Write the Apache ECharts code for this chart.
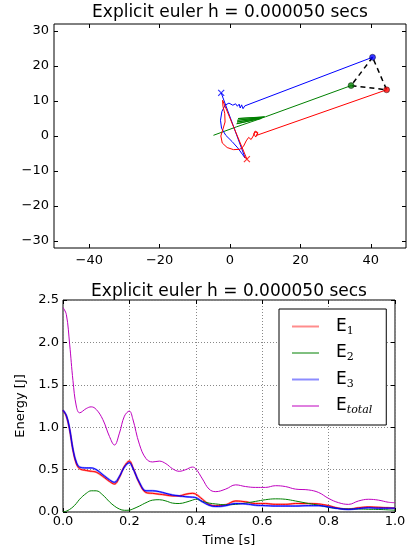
<!DOCTYPE html>
<html><head><meta charset="utf-8">
<script src="https://cdn.jsdelivr.net/npm/echarts@6/dist/echarts.min.js"></script>
<style>html,body{margin:0;padding:0;background:#fff}#c{width:414px;height:553px}</style>
</head><body><div id="c"></div>
<script>
// ---- trajectory data (x, y) ----
var blueTraj = [[40.5,22.5],[4.2,8.6],[3.7,7.8],[3.3,8.9],[2.9,8.0],[2.6,9.1],[2.1,8.5],[1.6,9.2],[0.8,8.8],[-0.3,9.4],[-1.4,8.8],[-2.3,7],[-2.7,4.5],[-2.4,2.2],[-1.2,0.2],[0.6,-1.6],[2.2,-3.4],[3.5,-5.2],[4.3,-6.3],[-2.5,12.3]];
var redTraj = [[44.5,13.2],[7.6,0.2],[7.9,1.0],[7.2,1.4],[6.8,0.6],[7.3,-0.3],[7.9,0.8],[7.0,1.2],[6.6,0.0],[6.0,-1.0],[5.3,-0.4],[4.6,-1.4],[3.8,-3.0],[2.8,-3.8],[1.0,-3.9],[-0.8,-3.3],[-2.2,-2.0],[-2.6,0.0],[-2.0,2.0],[-1.4,4.0],[-1.5,6.5],[-2.0,8.5],[-2.1,10.2],[4.8,-6.6]];
var greenTraj = [[34.4,14.4],[10.1,5.5],[2.3,5.0],[9.8,5.4],[2.1,4.5],[9.5,5.3],[2.0,4.0],[9.2,5.2],[1.9,3.5],[8.8,5.0],[1.8,2.6],[-4.7,0.2]];
var startPts = [[40.5,22.5,'#0000ff'],[34.4,14.4,'#008000'],[44.5,13.2,'#ff0000']];
var endPts = [[-2.5,12.3,'#0000ff'],[4.8,-6.6,'#ff0000']];
var triangle = [[40.5,22.5],[34.4,14.4],[44.5,13.2],[40.5,22.5]];
var topXTicks = [-40,-20,0,20,40];
var topYTicks = [-30,-20,-10,0,10,20,30];

// ---- energy data ----
var T = [0,0.01,0.02,0.03,0.04,0.05,0.07,0.085,0.1,0.12,0.14,0.155,0.17,0.185,0.2,0.21,0.23,0.25,0.27,0.29,0.31,0.33,0.35,0.37,0.39,0.4,0.42,0.44,0.46,0.49,0.52,0.55,0.58,0.61,0.64,0.67,0.7,0.74,0.77,0.8,0.83,0.86,0.89,0.92,0.95,0.98,1.0];
var E1 = [1.20,1.13,0.97,0.73,0.57,0.51,0.49,0.48,0.47,0.42,0.36,0.33,0.41,0.54,0.60,0.53,0.34,0.23,0.22,0.21,0.20,0.19,0.19,0.21,0.22,0.21,0.15,0.09,0.075,0.085,0.13,0.12,0.10,0.10,0.09,0.09,0.10,0.10,0.095,0.075,0.045,0.035,0.05,0.06,0.055,0.05,0.045];
var E2 = [0.0,0.01,0.03,0.06,0.10,0.15,0.22,0.25,0.25,0.20,0.12,0.07,0.035,0.02,0.022,0.035,0.07,0.11,0.14,0.145,0.13,0.105,0.10,0.115,0.14,0.15,0.125,0.105,0.095,0.085,0.09,0.105,0.125,0.145,0.155,0.15,0.13,0.10,0.08,0.055,0.04,0.035,0.035,0.032,0.03,0.025,0.02];
var E3 = [1.20,1.14,0.98,0.74,0.59,0.53,0.52,0.52,0.50,0.44,0.38,0.35,0.42,0.53,0.58,0.52,0.35,0.25,0.25,0.24,0.22,0.20,0.19,0.18,0.175,0.17,0.12,0.08,0.065,0.075,0.10,0.095,0.08,0.075,0.07,0.07,0.07,0.075,0.075,0.06,0.04,0.03,0.04,0.05,0.045,0.045,0.045];
var Etot = [2.41,2.33,1.98,1.55,1.25,1.17,1.22,1.24,1.21,1.09,0.89,0.79,0.93,1.13,1.19,1.10,0.80,0.63,0.59,0.60,0.57,0.51,0.48,0.50,0.53,0.51,0.39,0.27,0.24,0.27,0.32,0.30,0.29,0.29,0.31,0.30,0.27,0.26,0.23,0.16,0.11,0.09,0.13,0.15,0.14,0.115,0.11];
var legendNames = ['E1','E2','E3','Etotal'];
var titleText = 'Explicit euler h = 0.000050 secs';

function zipT(v){ return T.map(function(t,i){return [t,v[i]];}); }
var FONT = 'DejaVu Sans';
function minus(v){ return String(v).replace('-', '\u2212'); }

var chart = echarts.init(document.getElementById('c'), null, {renderer:'canvas'});
var tickStyle = {show:true, inside:true, length:4, lineStyle:{color:'#000', width:1}};
var noLine = {show:false, onZero:false};
var lbl = {color:'#000', fontFamily:FONT, fontSize:13};
var xMark = 'path://M0,0L10,10M10,0L0,10';
var legendWidths = {E1:2, E2:1, E3:2, Etotal:1};

var option = {
  animation:false,
  backgroundColor:'#fff',
  graphic:[
    {type:'text', x:230, y:13, style:{text:titleText, fontFamily:FONT, fontSize:17, fill:'#000', align:'center', verticalAlign:'middle'}},
    {type:'text', x:229, y:292, style:{text:titleText, fontFamily:FONT, fontSize:17, fill:'#000', align:'center', verticalAlign:'middle'}}
  ],
  grid:[
    {left:54, right:8, top:24, height:224, show:true, borderColor:'#000', borderWidth:1, backgroundColor:'transparent'},
    {left:63, right:19, top:300, bottom:41, show:true, borderColor:'#000', borderWidth:1, backgroundColor:'transparent'}
  ],
  xAxis:[
    {gridIndex:0, type:'value', min:-50, max:50, axisLine:noLine, splitLine:{show:false},
     axisTick:Object.assign({customValues:topXTicks}, tickStyle),
     axisLabel:Object.assign({customValues:topXTicks, margin:6, formatter:minus}, lbl)},
    {gridIndex:0, type:'value', position:'top', min:-50, max:50, axisLine:noLine, splitLine:{show:false},
     axisTick:Object.assign({customValues:topXTicks}, tickStyle), axisLabel:{show:false}},
    {gridIndex:1, type:'value', min:0, max:1, interval:0.2, axisLine:noLine,
     splitLine:{show:true, lineStyle:{color:'#888', type:[1,2], width:1}},
     axisTick:tickStyle,
     axisLabel:Object.assign({margin:3, formatter:function(v){return v.toFixed(1);}}, lbl),
     name:'Time [s]', nameLocation:'middle', nameGap:22, nameTextStyle:{color:'#000', fontFamily:FONT, fontSize:13}},
    {gridIndex:1, type:'value', position:'top', min:0, max:1, interval:0.2, axisLine:noLine, splitLine:{show:false},
     axisTick:tickStyle, axisLabel:{show:false}}
  ],
  yAxis:[
    {gridIndex:0, type:'value', min:-32, max:32, axisLine:noLine, splitLine:{show:false},
     axisTick:Object.assign({customValues:topYTicks}, tickStyle),
     axisLabel:Object.assign({customValues:topYTicks, margin:5, formatter:minus}, lbl)},
    {gridIndex:0, type:'value', position:'right', min:-32, max:32, axisLine:noLine, splitLine:{show:false},
     axisTick:Object.assign({customValues:topYTicks}, tickStyle), axisLabel:{show:false}},
    {gridIndex:1, type:'value', min:0, max:2.5, interval:0.5, axisLine:noLine,
     splitLine:{show:true, lineStyle:{color:'#888', type:[1,2], width:1}},
     axisTick:tickStyle,
     axisLabel:Object.assign({margin:4, formatter:function(v){return v.toFixed(1);}}, lbl),
     name:'Energy [J]', nameLocation:'middle', nameGap:31, nameRotate:90, nameTextStyle:{color:'#000', fontFamily:FONT, fontSize:13}},
    {gridIndex:1, type:'value', position:'right', min:0, max:2.5, interval:0.5, axisLine:noLine, splitLine:{show:false},
     axisTick:tickStyle, axisLabel:{show:false}}
  ],
  legend:{
    data:legendNames.map(function(n){return {name:n, lineStyle:{width:legendWidths[n]}};}),
    orient:'vertical', left:279, top:309,
    padding:[9,14,9,12], itemWidth:27, itemHeight:10, itemGap:8,
    itemStyle:{color:'rgba(0,0,0,0)', borderColor:'rgba(0,0,0,0)', borderWidth:0},
    backgroundColor:'#fff', borderColor:'#000', borderWidth:1, borderRadius:0,
    textStyle:{padding:[0,0,0,12], fontFamily:FONT, fontSize:16, color:'#000',
      rich:{
        b:{fontFamily:FONT, fontSize:17, color:'#000'},
        s:{fontFamily:'DejaVu Serif', fontSize:11, color:'#000', padding:[9,0,0,0]},
        i:{fontFamily:'DejaVu Serif', fontStyle:'italic', fontSize:11, color:'#000', padding:[9,0,0,0]}
      }},
    formatter:function(n){
      if(n==='Etotal') return '{b|E}{i|total}';
      return '{b|E}{s|'+n.slice(1)+'}';
    }
  },
  series:[
    {type:'line', xAxisIndex:0, yAxisIndex:0, data:blueTraj, symbol:'none', lineStyle:{color:'#0000ff', width:1}, z:3},
    {type:'line', xAxisIndex:0, yAxisIndex:0, data:greenTraj, symbol:'none', lineStyle:{color:'#008000', width:1}, z:2},
    {type:'line', xAxisIndex:0, yAxisIndex:0, data:redTraj, symbol:'none', lineStyle:{color:'#ff0000', width:1}, z:3},
    {type:'line', xAxisIndex:0, yAxisIndex:0, data:triangle, symbol:'none', lineStyle:{color:'#000', width:1.5, type:[5,4]}, z:4},
    {type:'scatter', xAxisIndex:0, yAxisIndex:0, data:startPts.map(function(p){return {value:[p[0],p[1]], itemStyle:{color:p[2]}};}),
     symbol:'circle', symbolSize:6, itemStyle:{borderColor:'#000', borderWidth:0.5}, z:5},
    {type:'scatter', xAxisIndex:0, yAxisIndex:0, data:endPts.map(function(p){return {value:[p[0],p[1]], itemStyle:{borderColor:p[2]}};}),
     symbol:xMark, symbolSize:6, itemStyle:{color:'none', borderWidth:1.2}, z:5},

    {name:'E1', type:'line', xAxisIndex:2, yAxisIndex:2, data:zipT(E1), symbol:'none', smooth:0.4, lineStyle:{color:'#ff0000', width:2, opacity:0.45}, itemStyle:{color:'#ff0000'}, z:3},
    {type:'line', xAxisIndex:2, yAxisIndex:2, data:zipT(E1), symbol:'none', smooth:0.4, lineStyle:{color:'#ff0000', width:1}, z:3},
    {name:'E2', type:'line', xAxisIndex:2, yAxisIndex:2, data:zipT(E2), symbol:'none', smooth:0.4, lineStyle:{color:'#008000', width:1}, itemStyle:{color:'#008000'}, z:3},
    {name:'E3', type:'line', xAxisIndex:2, yAxisIndex:2, data:zipT(E3), symbol:'none', smooth:0.4, lineStyle:{color:'#0000ff', width:2, opacity:0.45}, itemStyle:{color:'#0000ff'}, z:3},
    {type:'line', xAxisIndex:2, yAxisIndex:2, data:zipT(E3), symbol:'none', smooth:0.4, lineStyle:{color:'#0000ff', width:1}, z:3},
    {name:'Etotal', type:'line', xAxisIndex:2, yAxisIndex:2, data:zipT(Etot), symbol:'none', smooth:0.4, lineStyle:{color:'#bf00bf', width:1}, itemStyle:{color:'#bf00bf'}, z:3}
  ]
};
chart.setOption(option);
</script></body></html>
